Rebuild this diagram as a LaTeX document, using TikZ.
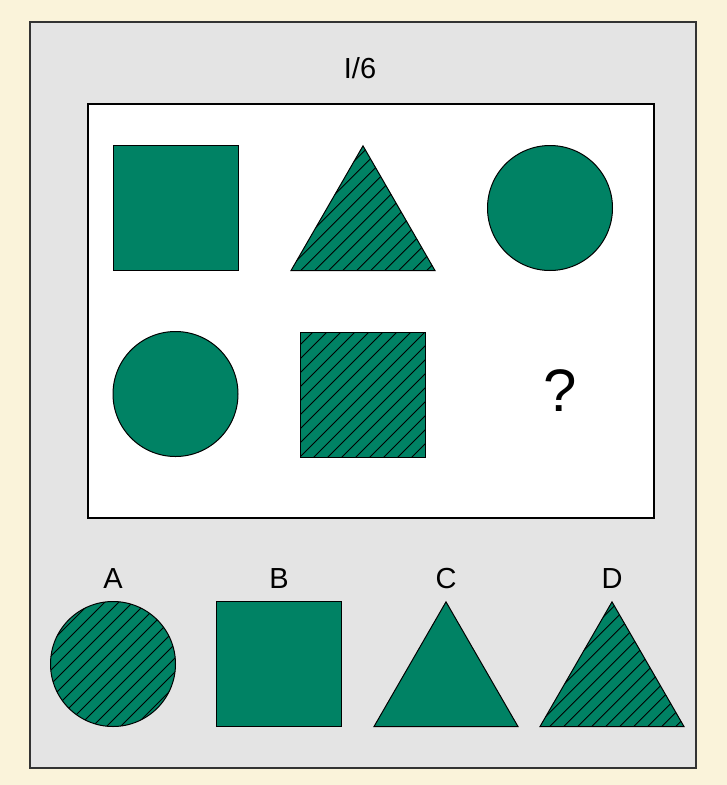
\documentclass[tikz,border=0pt]{standalone}
\usepackage{fontspec}
\setmainfont{Liberation Sans}
\usetikzlibrary{shapes.geometric}
\definecolor{cream}{RGB}{250,243,218}
\definecolor{panel}{RGB}{228,228,228}
\definecolor{tgreen}{RGB}{0,130,100}
\tikzset{
  fig/.style={draw=black,line width=1pt,fill=tgreen,inner sep=0pt,outer sep=0pt},
  sq/.style={fig,rectangle,minimum size=125pt},
  circ/.style={fig,circle,minimum size=125pt},
  tri/.style={fig,regular polygon,regular polygon sides=3,minimum size=166.3pt},
  hatch/.style={path picture={
    \foreach \k in {-22,...,22}{
      \draw[black,line width=0.9pt]
        ([xshift=\k*14pt]path picture bounding box.center) ++(-120pt,-120pt) -- ++(240pt,240pt);}}},
  lab/.style={font=\fontsize{29}{32}\selectfont,inner sep=0pt},
}
\begin{document}
\begin{tikzpicture}[x=1pt,y=-1pt]
\path[fill=cream] (0,0) rectangle (727,785);
\useasboundingbox (0,0) rectangle (727,785);
\node[draw=black!80,line width=2pt,fill=panel,minimum width=666pt,minimum height=746pt,inner sep=0pt] (outer) at (363,395) {};
\node[draw=black,line width=1.5pt,fill=white,minimum width=566pt,minimum height=414pt,inner sep=0pt] (inner) at (371,311) {};
\node[lab] (title) at (360,68) {I/6};
% grid
\node[sq] (s1) at (175.5,208) {};
\node[tri,hatch] (t1) at (363,229) {};
\node[circ] (c1) at (550,208) {};
\node[circ] (c2) at (175.5,394) {};
\node[sq,hatch] (s2) at (362.5,394.5) {};
\node[font=\fontsize{60}{64}\selectfont,inner sep=0pt] (q) at (560,391) {?};
% answers
\node[circ,hatch] (a) at (113,664) {};
\node[sq] (b) at (279,664) {};
\node[tri] (c) at (446,685) {};
\node[tri,hatch] (d) at (612,685) {};
\node[lab] (la) at (113,579) {A};
\node[lab] (lb) at (279,579) {B};
\node[lab] (lc) at (446,579) {C};
\node[lab] (ld) at (612,579) {D};
\end{tikzpicture}
\end{document}
